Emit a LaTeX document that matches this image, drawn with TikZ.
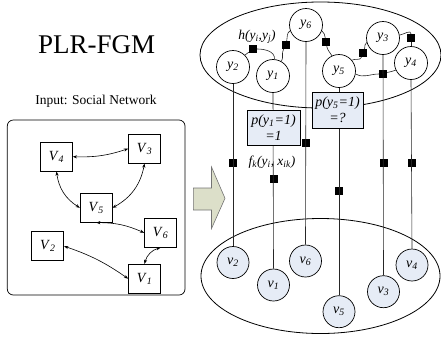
\documentclass[tikz,border=0pt]{standalone}
\usepackage{fontspec}
\setmainfont{Liberation Serif}
\usetikzlibrary{arrows.meta}
\definecolor{vfill}{HTML}{E6ECF6}
\definecolor{arrowfill}{HTML}{DCDFC9}
\newcommand{\isub}[2]{\textit{#1}\textsubscript{\textit{#2}}}

\begin{document}
\begin{tikzpicture}[x=1pt,y=1pt,
	ynode/.style={circle,draw=black,fill=white,line width=.7pt,minimum size=33pt,inner sep=0pt,font=\fontsize{14}{16}\selectfont},
	vnode/.style={ynode,fill=vfill,minimum size=32pt},
	factor/.style={rectangle,fill=black,minimum size=8pt,inner sep=0pt},
	pbox/.style={rectangle,draw=black,fill=vfill,line width=.6pt,inner sep=0pt,align=center,font=\fontsize{14}{16}\selectfont\itshape},
	netbox/.style={rectangle,draw=black,line width=.7pt,minimum width=32pt,minimum height=29pt,font=\fontsize{14}{16}\selectfont},
	link/.style={{Stealth[length=4.2pt,width=3.2pt]}-{Stealth[length=4.2pt,width=3.2pt]},line width=.6pt},
	wire/.style={line width=.6pt,black!85}]
	\useasboundingbox (0,0) rectangle (441,-341);

		% title
		\node[anchor=base,font=\fontsize{27}{30}\selectfont] (title) at (96.7,-53.5) {PLR-FGM};
		\node[anchor=base,font=\fontsize{13.5}{15}\selectfont] (input) at (96,-104.5) {Input: Social Network};

		% social network
		\draw[rounded corners=6pt,line width=.7pt] (7.3,-120) rectangle (185,-295);
		\node[netbox] (V4) at (56.5,-156.7) {\isub{V}{4}};
		\node[netbox] (V3) at (144.5,-148.7) {\isub{V}{3}};
		\node[netbox] (V5) at (96.2,-207.8) {\isub{V}{5}};
		\node[netbox] (V6) at (160.5,-232.8) {\isub{V}{6}};
		\node[netbox] (V2) at (47.8,-246.2) {\isub{V}{2}};
		\node[netbox] (V1) at (144.5,-278.7) {\isub{V}{1}};
		\draw[link] (V4.east) to[bend right=10] (V3.west);
		\draw[link] (V4.south) to[bend right=25] (V5.west);
		\draw[link] (V3.south) to[bend left=25] (V5.east);
		\draw[link] (V5.south) to[bend left=12] (V6.west);
		\draw[link] (V6.south) to[bend right=30] (V1.north);
		\draw[link] (V2.east) to[bend left=8] (V1.west);

		% block arrow
		\filldraw[fill=arrowfill,draw=black!55,line width=.6pt] (193.3,-188) -- (211.5,-188) -- (211.5,-167) -- (225,-198.3) -- (211.5,-228.5) -- (211.5,-210) -- (193.3,-210) -- cycle;

		% the two layers
		\draw[line width=.8pt] (320.5,-55) ellipse [x radius=120.5pt,y radius=53pt];
		\draw[line width=.8pt] (320.5,-276) ellipse [x radius=119.5pt,y radius=57.5pt];

		% labels of the factors
		\node[font=\fontsize{13.5}{15}\selectfont] (hlab) at (257,-37) {\textit{h(y\textsubscript{i},y\textsubscript{j})}};
		\node[font=\fontsize{13.5}{15}\selectfont] (flab) at (272,-162) {\textit{f\textsubscript{k}(y\textsubscript{i}, x\textsubscript{ik})}};

		% latent variables
		\node[ynode] (y2) at (233,-67) {\isub{y}{2}};
		\node[ynode] (y1) at (273,-76) {\isub{y}{1}};
		\node[ynode] (y6) at (306,-25) {\isub{y}{6}};
		\node[ynode] (y5) at (339,-71) {\isub{y}{5}};
		\node[ynode] (y3) at (383,-38) {\isub{y}{3}};
		\node[ynode] (y4) at (411,-63) {\isub{y}{4}};

		% observed nodes
		\node[vnode] (v2) at (233,-262.5) {\isub{v}{2}};
		\node[vnode] (v1) at (273.5,-285) {\isub{v}{1}};
		\node[vnode] (v6) at (305.5,-261) {\isub{v}{6}};
		\node[vnode] (v5) at (339,-311.7) {\isub{v}{5}};
		\node[vnode] (v3) at (383.5,-291.7) {\isub{v}{3}};
		\node[vnode] (v4) at (412,-265) {\isub{v}{4}};

		% correlation factors
		\node[factor] (h21) at (253,-49) {};
		\node[factor] (h16) at (286,-45) {};
		\node[factor] (h65) at (326,-42) {};
		\node[factor] (h53) at (363,-53) {};
		\node[factor] (h54) at (383,-74) {};
		\node[factor] (h34) at (411,-38) {};
		\draw[wire] (y2.45) -- (h21);
		\draw[wire] (h21) to[out=0,in=85] (y1.85);
		\draw[wire] (y1.60) to[out=60,in=-120] (h16);
		\draw[wire] (h16) to[out=80,in=-150] (y6.200);
		\draw[wire] (y6.-20) to[out=-40,in=100] (h65);
		\draw[wire] (h65) to[out=-80,in=120] (y5.115);
		\draw[wire] (y5.40) to[out=30,in=-110] (h53);
		\draw[wire] (h53) to[out=70,in=-160] (y3.195);
		\draw[wire] (y5.-10) to[out=-30,in=180] (h54);
		\draw[wire] (h54) to[out=20,in=-150] (y4.205);
		\draw[wire] (y3.10) to[out=10,in=90] (h34);
		\draw[wire] (h34) -- (y4.north);

		% attribute factors
		\node[factor] (f2) at (233,-163) {};
		\node[factor] (f1) at (273.5,-179) {};
		\node[factor] (f6) at (305.5,-142.5) {};
		\node[factor] (f5) at (339,-191) {};
		\node[factor] (f3) at (383.5,-163) {};
		\node[factor] (f4) at (411.5,-163) {};
		\draw[wire] (y2.south) -- (v2.north);
		\draw[wire] (y1.south) -- (v1.north);
		\draw[wire] (y6.south) -- (v6.north);
		\draw[wire] (y5.south) -- (v5.north);
		\draw[wire] (y3.south) -- (v3.north);
		\draw[wire] (y4.south) -- (v4.north);

		% predictions
		\node[pbox,minimum width=53pt,minimum height=35pt] (p1) at (273.5,-127.5) {p(y\textsubscript{1}=1)\\=1};
		\node[pbox,minimum width=51pt,minimum height=36pt] (p5) at (337.5,-110) {p(y\textsubscript{5}=1)\\=?};
	\end{tikzpicture}
\end{document}
